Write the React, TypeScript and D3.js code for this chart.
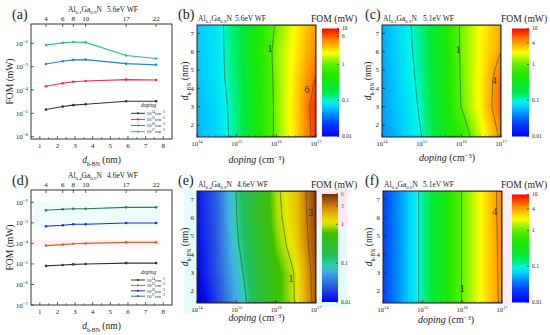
import React, { useMemo } from 'react';
import * as d3 from 'd3';

// ---------- line plots (a) and (d) ----------
const thickness = [1.35, 2.3, 2.9, 3.6, 5.9, 7.6];
const layerCount = ['4', '6', '8', '10', '17', '22'];
const dopingPower = ['14', '15', '16', '17'];

// (a) Al0.1Ga0.9N, 5.6eV WF
const fomA_1e14 = [1.45e-5, 1.95e-5, 2.25e-5, 2.45e-5, 3.3e-5, 3.3e-5];
const fomA_1e15 = [1.45e-4, 1.95e-4, 2.25e-4, 2.45e-4, 2.8e-4, 2.7e-4];
const fomA_1e16 = [1.3e-3, 1.7e-3, 1.95e-3, 2.0e-3, 1.35e-3, 1.2e-3];
const fomA_1e17 = [8.5e-3, 1.05e-2, 1.15e-2, 1.1e-2, 3.0e-3, 2.25e-3];

// (d) Al0.4Ga0.6N, 4.6eV WF
const fomD_1e14 = [8.0e-6, 8.9e-6, 9.5e-6, 1.0e-5, 1.1e-5, 1.1e-5];
const fomD_1e15 = [7.8e-5, 8.7e-5, 9.6e-5, 1.0e-4, 1.12e-4, 1.12e-4];
const fomD_1e16 = [6.8e-4, 7.6e-4, 8.5e-4, 8.5e-4, 9.8e-4, 9.8e-4];
const fomD_1e17 = [4.1e-3, 4.6e-3, 4.9e-3, 4.9e-3, 5.7e-3, 5.7e-3];

const colorsA = ['#333333', '#f52a45', '#2a82d2', '#1ec48e'];
const colorsD = ['#333333', '#d0642e', '#2a2ac8', '#2e7a5a'];

// ---------- contour maps (b), (c), (e), (f) ----------
// log10(FOM / mW), rows follow mapThickness, columns follow mapLogDoping
const mapLogDoping = [14, 14.5, 15, 15.5, 16, 16.5, 17];
const mapThickness = [1.35, 3, 4.5, 6, 7.6];

const logFomB = [
  [-1.25, -1.15, -0.9, -0.4, 0.07, 0.42, 0.9],
  [-1.25, -1.14, -0.88, -0.4, 0.07, 0.44, 0.93],
  [-1.22, -1.1, -0.85, -0.38, 0.08, 0.42, 0.8],
  [-1.2, -1.1, -0.82, -0.35, 0.1, 0.38, 0.68],
  [-1.2, -1.1, -0.8, -0.4, 0.03, 0.35, 0.6],
];
const logFomC = [
  [-1.35, -1.2, -1.0, -0.6, -0.2, 0.25, 0.65],
  [-1.32, -1.16, -0.96, -0.49, 0.01, 0.37, 0.8],
  [-1.31, -1.14, -0.93, -0.47, 0.03, 0.37, 0.76],
  [-1.3, -1.12, -0.9, -0.45, 0.04, 0.35, 0.6],
  [-1.28, -1.1, -0.88, -0.44, 0.05, 0.33, 0.56],
];
const logFomE = [
  [-2.15, -1.7, -1.25, -0.75, -0.3, 0.03, 0.6],
  [-2.0, -1.62, -1.15, -0.68, -0.28, 0.04, 0.63],
  [-1.95, -1.6, -1.05, -0.6, -0.15, 0.15, 0.68],
  [-1.92, -1.58, -1.0, -0.55, -0.08, 0.2, 0.72],
  [-1.9, -1.55, -0.98, -0.52, -0.05, 0.22, 0.74],
];
const logFomF = [
  [-1.65, -1.28, -0.93, -0.45, 0.02, 0.35, 0.66],
  [-1.65, -1.28, -0.93, -0.45, 0.02, 0.35, 0.67],
  [-1.65, -1.28, -0.93, -0.45, 0.02, 0.35, 0.68],
  [-1.65, -1.28, -0.93, -0.45, 0.02, 0.35, 0.69],
  [-1.65, -1.28, -0.93, -0.45, 0.02, 0.35, 0.7],
];

const levelsB = [0.1, 1, 6];
const levelsC = [0.1, 1, 4];
const levelsE = [0.01, 0.1, 1, 3];
const levelsF = [0.1, 1, 4];

const barTicksB = [0.01, 0.1, 1, 6, 10];
const barTicksC = [0.01, 0.1, 1, 4, 10];
const barTicksE = [0.01, 0.1, 1, 3, 6];
const barTicksF = [0.01, 0.1, 1, 4, 10];

// colour maps (log10 FOM -> colour)
const jetStops = [-2, -1.64, -1.36, -1.18, -1.02, -0.9, -0.7, -0.3, -0.03, 0.14, 0.32, 0.5, 0.7, 0.89, 1];
const jetColors = ['#0000ff', '#0040ff', '#0090ff', '#00d0ff', '#00f6e6', '#00f080', '#00e83a', '#20e800',
  '#50ee00', '#a0f600', '#ffff00', '#ffc000', '#ff8000', '#ff3000', '#ff0000'];
const brownStops = [-2, -1.5, -1.22, -1.05, -0.87, -0.55, -0.22, -0.05, 0.07, 0.25, 0.42, 0.6, 0.78];
const brownColors = ['#0000f0', '#3070e0', '#40b0e0', '#30d0b0', '#20c060', '#30c030', '#40c000',
  '#b0e000', '#e8e800', '#e8b800', '#d88800', '#a85a12', '#703008'];

const serif = "Liberation Serif, Times New Roman, serif";

type Frame = { x0: number; x1: number; y0: number; y1: number };

function sampleGrid(grid: number[][], lx: number, d: number) {
  const i = Math.max(0, Math.min(mapLogDoping.length - 2, d3.bisectRight(mapLogDoping, lx) - 1));
  const j = Math.max(0, Math.min(mapThickness.length - 2, d3.bisectRight(mapThickness, d) - 1));
  const tx = (lx - mapLogDoping[i]) / (mapLogDoping[i + 1] - mapLogDoping[i]);
  const ty = (d - mapThickness[j]) / (mapThickness[j + 1] - mapThickness[j]);
  const top = grid[j][i] * (1 - tx) + grid[j][i + 1] * tx;
  const bot = grid[j + 1][i] * (1 - tx) + grid[j + 1][i + 1] * tx;
  return top * (1 - ty) + bot * ty;
}

const Alloy = ({ x, y, al, ga, fs = 7.5 }: any) => (
  <text x={x} y={y} fontSize={fs} fill="#222">
    Al<tspan dy={2} fontSize={fs * 0.65}>{al}</tspan>
    <tspan dy={-2}>Ga</tspan><tspan dy={2} fontSize={fs * 0.65}>{ga}</tspan>
    <tspan dy={-2}>N</tspan>
  </text>
);

const DLabel = ({ x, y, rotate = false, fs = 9.5 }: any) => (
  <text transform={`translate(${x},${y})${rotate ? ' rotate(-90)' : ''}`} textAnchor="middle" fontSize={fs} fill="#222">
    <tspan fontStyle="italic">d</tspan>
    <tspan dy={2.5} fontSize={fs * 0.62}>h-BN</tspan>
    <tspan dy={-2.5}> (nm)</tspan>
  </text>
);

const Pow = ({ x, y, base = '10', exp, fs, anchor = 'middle' }: any) => (
  <text x={x} y={y} fontSize={fs} textAnchor={anchor} fill="#222">
    {base}<tspan dy={-fs * 0.4} fontSize={fs * 0.7}>{exp}</tspan>
  </text>
);

function LinePanel({ frame, yMin, yMax, series, colors, tag, al, ga, wf, legendTop, legendStep, bands = [] }: any) {
  const x = d3.scaleLinear().domain([0.5, 8.5]).range([frame.x0, frame.x1]);
  const y = d3.scaleLog().domain([yMin, yMax]).range([frame.y1, frame.y0]);
  const line = d3.line<number>().x((_, i) => x(thickness[i])).y(v => y(v));
  const decades = d3.range(Math.ceil(Math.log10(yMin) - 1e-9), Math.floor(Math.log10(yMax)) + 1);
  const cy = (frame.y0 + frame.y1) / 2;
  return (
    <g>
      {bands.map((b: any, i: number) => (
        <rect key={i} x={x(b.x0)} width={x(b.x1) - x(b.x0)} y={y(b.hi)} height={y(b.lo) - y(b.hi)} fill={b.fill} />
      ))}
      <text x={12} y={frame.y0 - 5} fontSize={14} fill="#222">{tag}</text>
      <Alloy x={68} y={frame.y0 - 12} al={al} ga={ga} />
      <text x={107} y={frame.y0 - 12} fontSize={7.5} fill="#222">{wf}</text>
      {thickness.map((t, i) => (
        <g key={i}>
          <line x1={x(t)} x2={x(t)} y1={frame.y0} y2={frame.y0 + 3} stroke="#222" strokeWidth={0.7} />
          <text x={x(t)} y={frame.y0 - 3} fontSize={7} textAnchor="middle" fill="#222">{layerCount[i]}</text>
        </g>
      ))}
      {d3.range(1, 9).map(v => (
        <g key={v}>
          <line x1={x(v)} x2={x(v)} y1={frame.y1} y2={frame.y1 - 3} stroke="#222" strokeWidth={0.7} />
          <text x={x(v)} y={frame.y1 + 9} fontSize={7} textAnchor="middle" fill="#222">{v}</text>
        </g>
      ))}
      {d3.range(1.5, 8.5, 1).map(v => (
        <line key={v} x1={x(v)} x2={x(v)} y1={frame.y1} y2={frame.y1 - 1.8} stroke="#222" strokeWidth={0.6} />
      ))}
      {decades.map(k => (
        <g key={k}>
          <line x1={frame.x0} x2={frame.x0 + 3} y1={y(10 ** k)} y2={y(10 ** k)} stroke="#222" strokeWidth={0.7} />
          <Pow x={frame.x0 - 3} y={y(10 ** k) + 2.5} exp={`−${-k}`} fs={7} anchor="end" />
        </g>
      ))}
      {series.map((s: number[], k: number) => (
        <g key={k}>
          <path d={line(s) || ''} fill="none" stroke={colors[k]} strokeWidth={1.1} />
          {s.map((v, i) => <circle key={i} cx={x(thickness[i])} cy={y(v)} r={1.3} fill={colors[k]} />)}
        </g>
      ))}
      <rect x={frame.x0} y={frame.y0} width={frame.x1 - frame.x0} height={frame.y1 - frame.y0} fill="none" stroke="#222" strokeWidth={0.9} />
      <text x={141} y={legendTop - 6} fontSize={5.5} fontStyle="italic" fill="#222">doping</text>
      {dopingPower.map((p, k) => {
        const ly = legendTop + k * legendStep;
        return (
          <g key={p}>
            <line x1={131} x2={145} y1={ly} y2={ly} stroke={colors[k]} strokeWidth={1} />
            <circle cx={138} cy={ly} r={1.1} fill={colors[k]} />
            <text x={146.5} y={ly + 1.8} fontSize={5} fill="#222">
              10<tspan dy={-2} fontSize={3.6}>{p}</tspan><tspan dy={2}>cm</tspan><tspan dy={-2} fontSize={3.6}>−3</tspan>
            </text>
          </g>
        );
      })}
      <text transform={`translate(${13},${cy}) rotate(-90)`} textAnchor="middle" fontSize={9.6} fill="#222">FOM (mW)</text>
      <DLabel x={(frame.x0 + frame.x1) / 2} y={frame.y1 + 24} />
    </g>
  );
}

function HeatPanel({ id, frame, grid, levels, stops, colors, bar, barMax, barTicks, tickColors = [], tag, tagX,
  al, ga, wf, wfX, headY, yLabelX, xLabelX, xLabelY, notes }: any) {
  const x = d3.scaleLinear().domain([14, 17]).range([frame.x0, frame.x1]);
  const y = d3.scaleLinear().domain([1.35, 7.45]).range([frame.y1, frame.y0]);
  const color = d3.scaleLinear<string>().domain(stops).range(colors).interpolate(d3.interpolateRgb).clamp(true);
  const nx = Math.round(frame.x1 - frame.x0);
  const ny = Math.round(frame.y1 - frame.y0);

  const { href, paths } = useMemo(() => {
    const values: number[] = new Array(nx * ny);
    for (let j = 0; j < ny; j++) {
      for (let i = 0; i < nx; i++) {
        values[j * nx + i] = sampleGrid(grid, x.invert(frame.x0 + i + 0.5), y.invert(frame.y0 + j + 0.5));
      }
    }
    const canvas = document.createElement('canvas');
    canvas.width = nx;
    canvas.height = ny;
    const ctx = canvas.getContext('2d')!;
    const img = ctx.createImageData(nx, ny);
    values.forEach((v, k) => {
      const c = d3.rgb(color(v));
      img.data[k * 4] = c.r;
      img.data[k * 4 + 1] = c.g;
      img.data[k * 4 + 2] = c.b;
      img.data[k * 4 + 3] = 255;
    });
    ctx.putImageData(img, 0, 0);
    const contours = d3.contours().size([nx, ny]).thresholds(levels.map(Math.log10))(values);
    const path = d3.geoPath(d3.geoIdentity().translate([frame.x0, frame.y0]) as any);
    return { href: canvas.toDataURL(), paths: contours.map(c => path(c as any) || '') };
  }, [grid]);

  const barY = d3.scaleLog().domain([0.01, barMax]).range([bar.y1, bar.y0]);
  const gradStops = d3.range(0, 41).map(k => {
    const l = -2 + (Math.log10(barMax) + 2) * k / 40;
    return { off: k / 40, c: color(l) };
  });
  const minor = d3.range(14, 17).flatMap(e => d3.range(2, 10).map(m => Math.log10(m) + e));
  const cy = (frame.y0 + frame.y1) / 2;

  return (
    <g>
      <defs>
        <clipPath id={`clip-${id}`}>
          <rect x={frame.x0} y={frame.y0} width={frame.x1 - frame.x0} height={frame.y1 - frame.y0} />
        </clipPath>
        <linearGradient id={`grad-${id}`} x1={0} y1={1} x2={0} y2={0}>
          {gradStops.map(s => <stop key={s.off} offset={s.off} stopColor={s.c} />)}
        </linearGradient>
      </defs>
      <text x={tagX} y={headY - 2} fontSize={14} fill="#222">{tag}</text>
      <Alloy x={frame.x0 + 1} y={headY} al={al} ga={ga} />
      <text x={wfX} y={headY} fontSize={7.5} fill="#222">{wf}</text>
      <image href={href} x={frame.x0} y={frame.y0} width={nx} height={ny} preserveAspectRatio="none" />
      <g clipPath={`url(#clip-${id})`}>
        {paths.map((p, i) => <path key={i} d={p} fill="none" stroke="#2e3a30" strokeOpacity={0.75} strokeWidth={0.8} />)}
      </g>
      {notes.map((n: any, i: number) => (
        <text key={i} x={x(n.x)} y={y(n.d) + 3.5} fontSize={10} textAnchor="middle" fill="#3a2a1a">{n.text}</text>
      ))}
      {d3.range(14, 18).map(e => (
        <g key={e}>
          <line x1={x(e)} x2={x(e)} y1={frame.y1} y2={frame.y1 - 3} stroke="#222" strokeWidth={0.7} />
          <Pow x={x(e)} y={frame.y1 + 9} exp={String(e)} fs={6.5} />
        </g>
      ))}
      {minor.map(v => (
        <line key={v} x1={x(v)} x2={x(v)} y1={frame.y1} y2={frame.y1 - 1.6} stroke="#222" strokeWidth={0.5} />
      ))}
      {d3.range(2, 8).map(v => (
        <g key={v}>
          <line x1={frame.x0} x2={frame.x0 + 3} y1={y(v)} y2={y(v)} stroke="#222" strokeWidth={0.7} />
          <text x={frame.x0 - 3} y={y(v) + 2.4} fontSize={7} textAnchor="end" fill="#222">{v}</text>
        </g>
      ))}
      <rect x={frame.x0} y={frame.y0} width={frame.x1 - frame.x0} height={frame.y1 - frame.y0} fill="none" stroke="#222" strokeWidth={1} />
      <text transform={`translate(${xLabelX},${xLabelY})`} textAnchor="middle" fontSize={10} fill="#222">
        <tspan fontStyle="italic">doping</tspan> (cm<tspan dy={-3.5} fontSize={6.5}>−3</tspan><tspan dy={3.5}>)</tspan>
      </text>
      <DLabel x={yLabelX} y={cy} rotate />
      <text x={bar.x0 - 11} y={headY + 1} fontSize={9.6} fill="#222">FOM (mW)</text>
      <rect x={bar.x0} y={bar.y0} width={bar.x1 - bar.x0} height={bar.y1 - bar.y0} fill={`url(#grad-${id})`} />
      {barTicks.map((t: number, i: number) => (
        <g key={t}>
          <line x1={bar.x1 - 2} x2={bar.x1} y1={barY(t)} y2={barY(t)} stroke="#222" strokeWidth={0.6} />
          <text x={bar.x1 + 3} y={barY(t) + 1.8} fontSize={5.5} fill={tickColors[i] || '#222'}>{String(t)}</text>
        </g>
      ))}
    </g>
  );
}

export default function App() {
  const frameA: Frame = { x0: 31, x1: 172, y0: 24, y1: 139 };
  const frameD: Frame = { x0: 31, x1: 172, y0: 190, y1: 305 };
  return (
    <svg width={550} height={335} style={{ position: 'absolute', left: 0, top: 0 }} fontFamily={serif}>
      <rect width={550} height={335} fill="#fff" />
      {/* faint tinted areas seen in the lower row */}
      <rect x={184} y={189} width={13} height={124} fill="#e6fbfb" />
      <rect x={317} y={189} width={30} height={38} fill="#fde8f3" />
      <rect x={317} y={227} width={30} height={80} fill="#e4fbfb" />
      <rect x={502} y={189} width={10} height={116} fill="#fdeef5" />

      <LinePanel frame={frameA} yMin={10 ** -6.1} yMax={10 ** -1.17}
        series={[fomA_1e14, fomA_1e15, fomA_1e16, fomA_1e17]} colors={colorsA}
        tag="(a)" al="0.1" ga="0.9" wf="5.6eV WF" legendTop={113.3} legendStep={6.1} />
      <LinePanel frame={frameD} yMin={1e-7} yMax={10 ** -1.4}
        series={[fomD_1e14, fomD_1e15, fomD_1e16, fomD_1e17]} colors={colorsD}
        tag="(d)" al="0.4" ga="0.6" wf="4.6eV WF" legendTop={280} legendStep={5.4}
        bands={[{ x0: 0.6, x1: 7.8, lo: 6e-4, hi: 1.1e-2, fill: '#eefcfc' },
          { x0: 0.6, x1: 7.8, lo: 7e-5, hi: 1.5e-4, fill: '#fdf1f4' }]} />

      <HeatPanel id="b" frame={{ x0: 197, x1: 316, y0: 25, y1: 137 }} grid={logFomB} levels={levelsB}
        stops={jetStops} colors={jetColors} bar={{ x0: 322, x1: 339, y0: 28.5, y1: 136.5 }} barMax={10}
        barTicks={barTicksB} tag="(b)" tagX={178} al="0.1" ga="0.9" wf="5.6eV WF" wfX={235} headY={21}
        yLabelX={188} xLabelX={256.5} xLabelY={163}
        notes={[{ x: 15.84, d: 6.18, text: '1' }, { x: 16.77, d: 3.95, text: '6' }]} />
      <HeatPanel id="c" frame={{ x0: 382, x1: 501, y0: 25, y1: 137 }} grid={logFomC} levels={levelsC}
        stops={jetStops} colors={jetColors} bar={{ x0: 512, x1: 529, y0: 28.5, y1: 136.5 }} barMax={10}
        barTicks={barTicksC} tag="(c)" tagX={365} al="0.1" ga="0.9" wf="5.1eV WF" wfX={423} headY={21}
        yLabelX={371} xLabelX={447} xLabelY={161}
        notes={[{ x: 15.92, d: 6.13, text: '1' }, { x: 16.83, d: 4.45, text: '4' }]} />
      <HeatPanel id="e" frame={{ x0: 197, x1: 316, y0: 191, y1: 303 }} grid={logFomE} levels={levelsE}
        stops={brownStops} colors={brownColors} bar={{ x0: 322, x1: 338, y0: 194, y1: 302 }} barMax={6}
        barTicks={barTicksE} tickColors={['#222', '#222', '#222', '#c03050', '#c03050']}
        tag="(e)" tagX={178} al="0.4" ga="0.6" wf="4.6eV WF" wfX={237} headY={187}
        yLabelX={188} xLabelX={256.5} xLabelY={321}
        notes={[{ x: 16.87, d: 6.29, text: '3' }, { x: 16.37, d: 2.66, text: '1' }]} />
      <HeatPanel id="f" frame={{ x0: 383, x1: 502, y0: 191, y1: 303 }} grid={logFomF} levels={levelsF}
        stops={jetStops} colors={jetColors} bar={{ x0: 512, x1: 529, y0: 194.5, y1: 302.5 }} barMax={10}
        barTicks={barTicksF} tag="(f)" tagX={365} al="0.4" ga="0.6" wf="5.1eV WF" wfX={423} headY={187}
        yLabelX={372} xLabelX={446} xLabelY={323}
        notes={[{ x: 16.82, d: 6.36, text: '4' }, { x: 16.0, d: 2.16, text: '1' }]} />
    </svg>
  );
}
